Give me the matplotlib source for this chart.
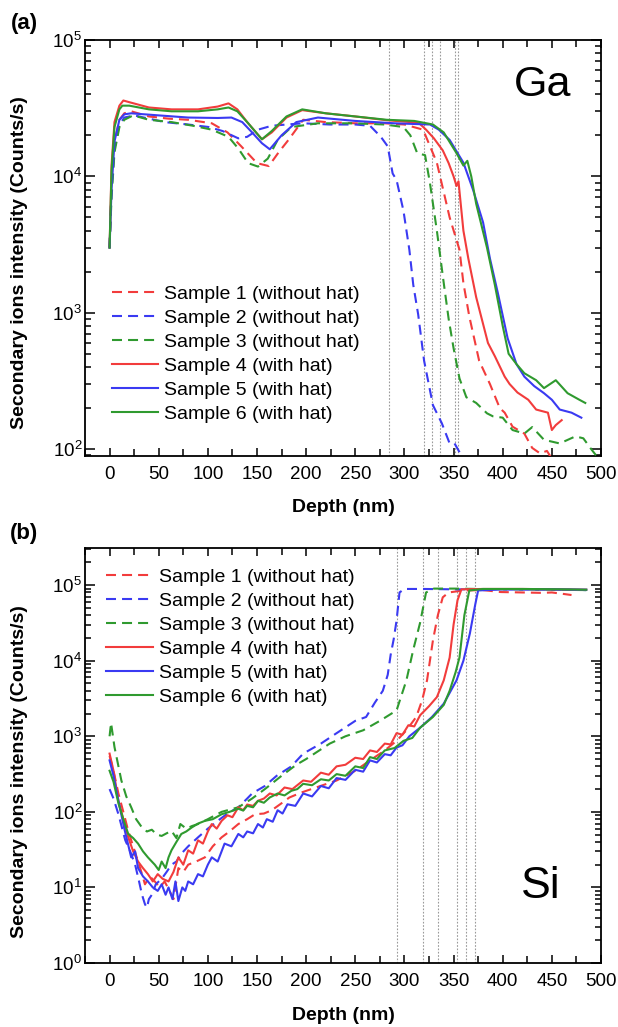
import matplotlib
matplotlib.use("Agg")
import matplotlib.pyplot as plt
from matplotlib.ticker import MultipleLocator, LogLocator, NullFormatter

plt.rcParams['font.family'] = ['Liberation Sans', 'DejaVu Sans']

labels = ["Sample 1 (without hat)", "Sample 2 (without hat)", "Sample 3 (without hat)",
          "Sample 4 (with hat)", "Sample 5 (with hat)", "Sample 6 (with hat)"]

# ---------------- Ga panel (a) ----------------
ga_d1 = [0, 2, 5, 10, 15, 22, 40, 60, 80, 104, 120, 134, 150, 162, 172, 182, 197, 220, 250, 280, 300,
         319, 333, 346, 356, 360, 366, 376, 387, 397, 402, 410, 422, 430, 438, 445, 450, 455]
ga_v1 = [3000, 9000, 18000, 26000, 29000, 30000, 27500, 26500, 26000, 24500, 21000, 16600, 12500, 11900,
         15000, 18500, 26000, 25000, 24500, 24500, 24000, 22000, 12600, 5000, 2900, 1650, 940, 445, 300,
         200, 185, 146, 130, 102, 93, 97, 85, 70]

ga_d2 = [0, 2, 5, 10, 15, 25, 56, 80, 101, 115, 131, 140, 151, 165, 180, 197, 224, 250, 265, 276, 283,
         288, 292, 299, 305, 309, 314, 320, 329, 338, 346, 351, 356, 360]
ga_v2 = [3000, 8000, 16000, 24000, 27000, 28000, 25000, 24000, 23000, 21500, 19000, 19500, 22000, 23500,
         24000, 24500, 24000, 24000, 23500, 19500, 16600, 10500, 9400, 5600, 2900, 1600, 970, 445, 210,
         155, 110, 110, 95, 80]

ga_d3 = [0, 2, 5, 10, 15, 24, 40, 63, 85, 104, 121, 131, 141, 151, 161, 171, 185, 212, 250, 280, 299,
         306, 313, 321, 326, 333, 340, 345, 350, 356, 363, 373, 384, 390, 400, 410, 422, 430, 442, 458,
         474, 482, 490, 495]
ga_v3 = [3000, 7000, 15000, 23000, 26000, 28000, 26000, 25000, 23500, 22000, 19500, 16000, 12500, 11800,
         13500, 18500, 23000, 24500, 24500, 24000, 23000, 20000, 14800, 14300, 8900, 4000, 1650, 900, 550,
         330, 240, 218, 183, 174, 170, 138, 130, 145, 117, 110, 124, 120, 100, 90]

ga_d4 = [0, 2, 5, 10, 14, 20, 40, 63, 90, 110, 121, 130, 140, 155, 165, 180, 196, 220, 250, 282, 306,
         315, 322, 330, 339, 345, 350, 353, 355, 360, 365, 373, 385, 392, 402, 407, 415, 426, 434, 446,
         450, 454, 460]
ga_v4 = [3000, 12000, 25000, 33000, 36000, 35000, 32000, 31000, 31000, 32500, 34300, 31000, 25000, 18700,
         21000, 27000, 30600, 29000, 27500, 25800, 25000, 24500, 22000, 19000, 15500, 12500, 10000, 8500,
         9200, 4000, 2500, 1300, 600, 480, 340, 300, 260, 230, 195, 185, 138, 150, 163]

ga_d5 = [0, 2, 5, 10, 15, 22, 50, 80, 110, 124, 135, 145, 155, 163, 175, 190, 212, 250, 290, 326, 335,
         346, 360, 370, 380, 387, 395, 405, 414, 422, 432, 442, 450, 458, 470, 480]
ga_v5 = [3000, 8000, 18000, 26000, 28500, 29000, 28000, 27000, 26800, 27000, 25000, 21000, 17500, 15800,
         20000, 25000, 27000, 25500, 24500, 24000, 22000, 18500, 12600, 7900, 4600, 2500, 1400, 650, 420,
         340, 290, 257, 230, 195, 185, 170]

ga_d6 = [0, 2, 5, 10, 13, 20, 40, 63, 90, 110, 121, 130, 140, 155, 165, 180, 196, 220, 250, 282, 310,
         329, 340, 353, 360, 364, 368, 373, 384, 392, 400, 406, 414, 422, 434, 442, 454, 466, 478, 484]
ga_v6 = [3000, 11000, 23000, 31000, 33000, 33000, 31000, 30000, 30000, 31000, 32000, 30000, 25000, 18700,
         21500, 27500, 31000, 29000, 27500, 26000, 25500, 24000, 21000, 14800, 12000, 13000, 10000, 6300,
         3000, 1600, 800, 500, 420, 360, 320, 280, 320, 257, 230, 218]

ga_vlines = [284, 320, 328, 336, 351, 354]

# ---------------- Si panel (b) ----------------
si_d1 = [0, 4, 9, 14, 19, 24, 29, 33, 36, 41, 46, 51, 56, 61, 65, 70, 75, 80, 88, 97, 105, 114, 122, 131,
         140, 148, 157, 165, 175, 183, 195, 210, 231, 250, 265, 280, 292, 302, 312, 318, 323, 329, 334,
         339, 345, 360, 380, 398, 420, 440, 450, 460, 470]
si_v1 = [550, 350, 175, 100, 56, 35, 22, 15, 11, 14, 12, 10, 12, 9, 7, 18, 16, 20, 22, 25, 35, 46, 55, 69,
         80, 93, 95, 105, 130, 155, 180, 210, 260, 350, 480, 650, 870, 1200, 1800, 3000, 5500, 18600,
         40000, 69000, 80000, 85000, 86000, 81000, 80000, 79000, 80000, 77000, 74000]

si_d2 = [0, 4, 9, 16, 21, 26, 30, 33, 36, 38, 40, 43, 47, 53, 58, 63, 68, 73, 80, 90, 100, 110, 120, 131,
         140, 145, 158, 170, 185, 197, 215, 231, 250, 261, 270, 278, 283, 286, 289, 292, 295, 300, 320,
         350, 400, 450, 485]
si_v2 = [200, 150, 93, 42, 30, 20, 12, 8, 6, 5.4, 7, 8, 11, 13, 16, 20, 22, 28, 35, 46, 60, 76, 95, 115,
         150, 175, 220, 300, 400, 590, 800, 1100, 1600, 1800, 2800, 4000, 6500, 12000, 19000, 34000,
         80000, 89000, 89000, 88000, 88000, 87000, 86000]

si_d3 = [0, 1.5, 5, 12, 17, 22, 27, 33, 38, 43, 48, 53, 58, 63, 68, 72, 78, 84, 90, 100, 114, 131, 145,
         158, 175, 190, 200, 224, 240, 258, 275, 292, 302, 309, 316, 322, 330, 350, 400, 450, 485]
si_v3 = [1000, 1500, 720, 260, 160, 115, 80, 62, 55, 58, 50, 48, 52, 56, 45, 69, 60, 65, 69, 80, 100, 115,
         150, 200, 300, 420, 500, 800, 1000, 1200, 1600, 2200, 5500, 14000, 32000, 80000, 90000, 90000,
         88000, 87000, 86000]

si_d4 = [0, 4, 9, 14, 19, 24, 29, 34, 39, 44, 49, 54, 60, 65, 70, 75, 80, 85, 90, 95, 100, 104, 109, 114,
         120, 125, 131, 136, 140, 146, 151, 157, 163, 170, 178, 186, 197, 205, 215, 223, 231, 240, 250,
         258, 265, 272, 280, 286, 292, 298, 304, 310, 316, 325, 333, 340, 346, 350, 354, 358, 380, 420,
         460, 485]
si_v4 = [590, 350, 140, 80, 46, 30, 22, 18, 15, 12, 15, 13, 12, 16, 25, 20, 31, 28, 42, 38, 55, 69, 60, 76,
         90, 85, 115, 105, 125, 120, 140, 150, 175, 165, 210, 200, 260, 250, 330, 310, 400, 420, 520,
         500, 650, 620, 800, 780, 1100, 1050, 1400, 1350, 1900, 2500, 3300, 5500, 11000, 30000, 63000,
         88000, 89000, 89000, 88000, 87000]

si_d5 = [0, 4, 9, 15, 22, 26, 29, 34, 39, 44, 49, 53, 57, 60, 64, 67, 70, 74, 77, 80, 85, 90, 95, 100,
         104, 110, 117, 124, 131, 136, 140, 146, 151, 156, 160, 166, 171, 176, 181, 189, 197, 206, 215,
         223, 231, 240, 250, 258, 265, 272, 280, 286, 292, 298, 305, 316, 328, 340, 353, 360, 366.6, 372,
         375, 400, 450, 485]
si_v5 = [480, 300, 140, 60, 25, 30, 18, 14, 12, 10, 9, 11, 8, 10, 7, 12, 6.6, 10, 9, 12, 11, 15, 14, 20,
         25, 22, 38, 35, 51, 46, 55, 52, 69, 62, 80, 74, 105, 95, 126, 120, 175, 160, 220, 205, 280, 265,
         360, 340, 480, 450, 580, 560, 710, 760, 1000, 1300, 1800, 2700, 5500, 10000, 23000, 55000,
         85000, 88000, 88000, 87000]

si_d6 = [0, 4, 9, 14, 19, 24, 29, 34, 39, 43, 46, 50, 53, 57, 60, 63, 68, 73, 78, 83.5, 90, 97, 105, 114,
         122, 131, 136, 140, 146, 151, 157, 163, 171, 178, 185, 191, 197, 206, 215, 223, 231, 240, 250,
         258, 265, 272, 280, 290, 299, 308, 316, 329, 340, 346, 352, 356, 361, 366, 380, 420, 460, 485]
si_v6 = [350, 250, 130, 80, 51, 45, 38, 30, 25, 22, 20, 17, 22, 18, 25, 31, 40, 51, 55, 62, 70, 76, 80, 93,
         100, 110, 104, 120, 115, 140, 132, 155, 175, 165, 190, 200, 235, 225, 270, 260, 316, 300, 400,
         380, 530, 500, 650, 700, 870, 950, 1300, 1800, 2600, 4000, 7000, 11000, 40000, 85000, 89000,
         89000, 88000, 87000]

si_vlines = [292, 319, 334, 353, 363, 372]

x_ticks = [0, 50, 100, 150, 200, 250, 300, 350, 400, 450, 500]

RED, BLUE, GREEN = '#f23c3c', '#3a3af2', '#2f9a2f'
colors = [RED, BLUE, GREEN, RED, BLUE, GREEN]
dashed = [True, True, True, False, False, False]

W, H = 618, 1027
fig = plt.figure(figsize=(W / 100, H / 100), dpi=100)


def axes_px(l, t, r, b):
    return fig.add_axes([l / W, 1 - b / H, (r - l) / W, (b - t) / H])


ax1 = axes_px(85, 40, 601, 456)
ax2 = axes_px(85, 548, 601, 963)


def draw(ax, ds, vs, vlines, ylim):
    for x in vlines:
        ax.axvline(x, color='#9a9a9a', lw=0.8, ls=(0, (1.5, 1.5)), zorder=1)
    for d, v, c, dsh, lab in zip(ds, vs, colors, dashed, labels):
        if dsh:
            ax.plot(d, v, color=c, lw=1.5, dashes=(4.8, 2.9), label=lab, zorder=3)
        else:
            ax.plot(d, v, color=c, lw=1.5, label=lab, zorder=3)
    ax.set_yscale('log')
    ax.set_xlim(-25, 500)
    ax.set_ylim(*ylim)
    ax.set_xticks(x_ticks)
    ax.xaxis.set_minor_locator(MultipleLocator(25))
    ax.yaxis.set_major_locator(LogLocator(base=10, numticks=20))
    ax.yaxis.set_minor_locator(LogLocator(base=10, subs=range(2, 10), numticks=20))
    ax.yaxis.set_minor_formatter(NullFormatter())
    ax.tick_params(which='both', direction='in', top=True, right=True, width=1.1, labelsize=13.5)
    ax.tick_params(axis='x', which='major', length=6, pad=7)
    ax.tick_params(axis='x', which='minor', length=5)
    ax.tick_params(axis='y', which='major', length=7, pad=2)
    ax.tick_params(axis='y', which='minor', length=4)
    for s in ax.spines.values():
        s.set_linewidth(1.3)


draw(ax1, [ga_d1, ga_d2, ga_d3, ga_d4, ga_d5, ga_d6],
     [ga_v1, ga_v2, ga_v3, ga_v4, ga_v5, ga_v6], ga_vlines, (89, 1e5))
draw(ax2, [si_d1, si_d2, si_d3, si_d4, si_d5, si_d6],
     [si_v1, si_v2, si_v3, si_v4, si_v5, si_v6], si_vlines, (1, 3.1e5))

leg_kw = dict(frameon=False, fontsize=14, handlelength=2.4, handletextpad=0.3,
              labelspacing=0.33, borderaxespad=0, borderpad=0, loc='center left')
ax1.legend(bbox_to_anchor=(0.052, 0.245), **leg_kw)
ax2.legend(bbox_to_anchor=(0.041, 0.786), **leg_kw)

ylab = "Secondary ions intensity (Counts/s)"
fig.text(20 / W, 1 - 263 / H, ylab, rotation=90, ha='center', va='center', fontsize=14, fontweight='bold')
fig.text(20 / W, 1 - 772 / H, ylab, rotation=90, ha='center', va='center', fontsize=14, fontweight='bold')
fig.text(343 / W, 1 - 508 / H, "Depth (nm)", ha='center', va='center', fontsize=14, fontweight='bold')
fig.text(343 / W, 1 - 1015 / H, "Depth (nm)", ha='center', va='center', fontsize=14, fontweight='bold')
fig.text(24 / W, 1 - 24 / H, "(a)", ha='center', va='center', fontsize=16, fontweight='bold')
fig.text(24 / W, 1 - 534 / H, "(b)", ha='center', va='center', fontsize=16, fontweight='bold')
fig.text(543 / W, 1 - 85 / H, "Ga", ha='center', va='center', fontsize=31)
fig.text(541 / W, 1 - 887 / H, "Si", ha='center', va='center', fontsize=32)

fig.savefig("out.png", dpi=100, facecolor='white')
